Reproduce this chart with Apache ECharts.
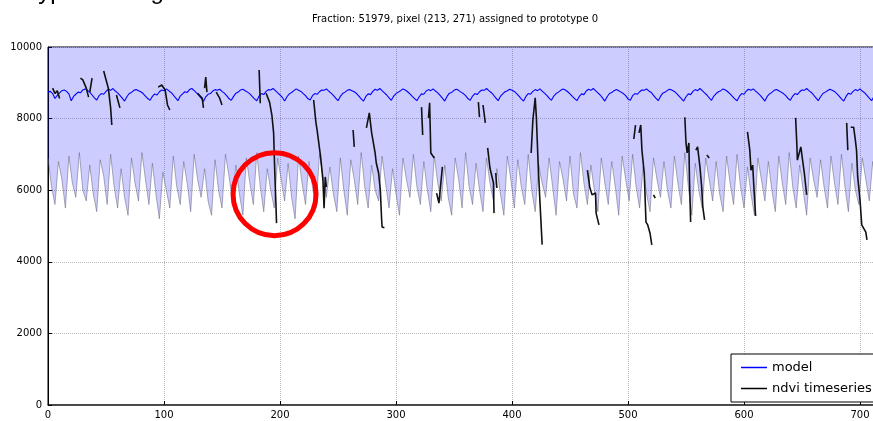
<!DOCTYPE html>
<html>
<head>
<meta charset="utf-8">
<script src="https://cdn.jsdelivr.net/npm/echarts@6/dist/echarts.min.js"></script>
</head>
<body style="margin:0;background:#fff;overflow:hidden">
<div id="main" style="width:900px;height:421px"></div>
<script>
// model curve, one value every 2 time steps
var modelStep = 2;
var modelValues = [
  8740, 8760, 8700, 8560, 8650, 8720, 8780, 8800, 8760, 8690,
  8500, 8620, 8680, 8740, 8720, 8800, 8830, 8790, 8740, 8660, 8580,
  8520, 8640, 8700, 8680, 8760, 8820, 8790, 8840, 8770, 8720, 8650, 8570,
  8490, 8610, 8700, 8730, 8790, 8810, 8780, 8750, 8700, 8630, 8560,
  8510, 8620, 8690, 8660, 8750, 8800, 8780, 8830, 8780, 8730, 8660, 8580,
  8500, 8630, 8690, 8750, 8730, 8810, 8840, 8780, 8720, 8650, 8570,
  8480, 8610, 8680, 8700, 8770, 8810, 8790, 8820, 8760, 8710, 8640, 8560,
  8510, 8620, 8710, 8740, 8800, 8820, 8780, 8740, 8690, 8620, 8550,
  8500, 8630, 8700, 8670, 8760, 8810, 8800, 8840, 8780, 8720, 8660, 8590,
  8490, 8610, 8690, 8730, 8780, 8830, 8790, 8760, 8700, 8640, 8560,
  8520, 8640, 8700, 8680, 8750, 8800, 8790, 8830, 8770, 8710, 8650, 8570,
  8500, 8620, 8700, 8740, 8790, 8810, 8780, 8750, 8700, 8630, 8550,
  8490, 8620, 8690, 8670, 8760, 8820, 8790, 8840, 8780, 8720, 8660, 8580,
  8510, 8630, 8700, 8740, 8780, 8830, 8800, 8750, 8690, 8620, 8560,
  8500, 8610, 8690, 8680, 8770, 8810, 8780, 8830, 8770, 8720, 8650, 8570,
  8490, 8620, 8710, 8730, 8790, 8820, 8790, 8740, 8700, 8640, 8560,
  8510, 8630, 8700, 8670, 8750, 8800, 8790, 8840, 8780, 8730, 8660, 8580,
  8500, 8620, 8690, 8750, 8780, 8820, 8790, 8760, 8700, 8630, 8550,
  8490, 8620, 8700, 8680, 8760, 8810, 8780, 8830, 8770, 8710, 8650, 8570,
  8510, 8630, 8700, 8740, 8790, 8830, 8800, 8750, 8690, 8620, 8560,
  8500, 8620, 8690, 8670, 8770, 8820, 8790, 8840, 8780, 8720, 8660, 8580,
  8490, 8610, 8700, 8730, 8780, 8810, 8780, 8740, 8700, 8640, 8550,
  8510, 8640, 8700, 8680, 8750, 8800, 8790, 8830, 8770, 8730, 8650, 8570,
  8500, 8620, 8710, 8740, 8790, 8820, 8790, 8760, 8700, 8630, 8560,
  8490, 8610, 8690, 8670, 8760, 8810, 8780, 8840, 8780, 8720, 8660, 8580,
  8510, 8630, 8700, 8750, 8780, 8830, 8800, 8750, 8690, 8620, 8550,
  8500, 8620, 8700, 8680, 8770, 8820, 8790, 8830, 8770, 8710, 8650, 8570,
  8490, 8620, 8690, 8730, 8790, 8810, 8780, 8740, 8700, 8640, 8560,
  8510, 8630, 8700, 8670, 8750, 8800, 8790, 8840, 8780, 8730, 8660, 8580,
  8500, 8610, 8700, 8740, 8780, 8820, 8790, 8760, 8700, 8630, 8550,
  8490, 8620, 8710, 8680, 8760, 8810, 8780, 8830, 8770, 8720, 8650, 8570,
  8500, 8620, 8700, 8740, 8790
];

// lower edge of the shaded band, one value every 3 time steps
var bandStep = 3;
var bandLower = [
  6900, 6100, 5600, 6800, 6300, 5500, 6950, 6200, 5800, 7050, 6000, 5700,
  6700, 5900, 5400, 6850, 6400, 5600, 7000, 6100, 5500, 6600, 5800, 5300,
  6900, 6200, 5700, 7050, 6300, 5600, 6750, 5900, 5200, 6500, 6000, 5500,
  6950, 6100, 5600, 6800, 6200, 5400, 7000, 6300, 5800, 6600, 5700, 5300,
  6850, 6000, 5500, 7000, 6400, 5700, 6700, 5900, 5300, 6900, 6200, 5600,
  7050, 6100, 5400, 6600, 6000, 5500, 6900, 6300, 5700, 6750, 5800, 5200,
  6950, 6200, 5600, 6800, 6100, 5500, 7000, 6400, 5800, 6650, 5900, 5400,
  6900, 6000, 5300, 6850, 6300, 5600, 7050, 6100, 5500, 6700, 6000, 5700,
  6950, 6200, 5500, 6600, 5900, 5300, 6900, 6300, 5800, 7000, 6100, 5600,
  6800, 6000, 5400, 6950, 6200, 5700, 6700, 5800, 5300, 6900, 6300, 5500,
  7050, 6100, 5600, 6750, 6000, 5400, 6900, 6200, 5700, 6600, 5900, 5300,
  6950, 6300, 5500, 6850, 6100, 5600, 7000, 6000, 5400, 6700, 6200, 5800,
  6900, 6100, 5300, 6800, 6300, 5700, 6950, 5900, 5500, 7050, 6200, 5600,
  6700, 6000, 5400, 6900, 6200, 5600, 6800, 6100, 5300, 6950, 6300, 5700,
  7000, 6100, 5500, 6650, 5900, 5400, 6900, 6300, 5800, 6800, 6000, 5500,
  6950, 6200, 5600, 7050, 6100, 5300, 6750, 6000, 5500, 6900, 6300, 5700,
  6800, 5900, 5400, 6950, 6200, 5600, 7000, 6100, 5500, 6650, 5900, 5300,
  6900, 6300, 5700, 6800, 6000, 5400, 6950, 6200, 5600, 7050, 6100, 5500,
  6700, 6000, 5300, 6900, 6300, 5800, 6850, 6100, 5500, 6950, 6200, 5600,
  7000, 6100, 5400, 6750, 6000, 5600, 6900, 6300, 5700, 6800, 6100, 5500,
  6900, 6000
];

// ndvi observations, broken into the runs that were observed
var ndviSegments = [
  [[4, 8850], [6, 8700], [8, 8780], [10, 8560]],
  [[28, 9130], [30, 9080], [33, 8850], [35, 8600]],
  [[36, 8740], [38, 9130]],
  [[48, 9330], [52, 8850], [54, 8300], [55, 7820]],
  [[59, 8660], [62, 8300]],
  [[95, 8880], [98, 8940], [101, 8800], [103, 8380], [105, 8240]],
  [[129, 8710], [133, 8570], [134, 8300]],
  [[135, 8850], [136, 9160], [137, 8740]],
  [[145, 8740], [148, 8570], [150, 8380]],
  [[182, 9360], [183, 8430]],
  [[188, 8710], [191, 8460], [193, 8100], [194.5, 7600], [195.5, 6500], [196.5, 5600], [197, 5080]],
  [[229, 8520], [231, 7880], [232, 7680], [235, 6930], [237, 6280], [238, 5500], [239, 6370], [240, 6090]],
  [[263, 7680], [264, 7210]],
  [[274.5, 7740], [277, 8160], [279, 7600], [282, 7040], [283, 6760], [285, 6480], [286.5, 6000], [287.5, 5250], [288, 4970], [290, 4950]],
  [[322, 8320], [323, 7540]],
  [[328, 8020], [329, 8440], [330, 7040], [333, 6900]],
  [[335, 5920], [337, 5640], [340, 6650]],
  [[371, 8460], [372, 8040]],
  [[375, 8380], [377, 7880]],
  [[379, 7180], [381, 6620], [384, 6200], [384.5, 5360]],
  [[386, 6480], [387, 6060]],
  [[416.5, 7040], [418, 7960], [420, 8580], [421, 8040], [422.5, 6760], [424, 5730], [426, 4480]],
  [[465, 6560], [467, 6090], [469, 5870], [472, 5920], [472.5, 5360], [474, 5310], [475, 5030]],
  [[505, 7430], [506.5, 7820]],
  [[509.5, 7600], [511, 7820], [512, 7120], [514, 6480], [515.5, 5110], [517, 5030], [519, 4800], [520.5, 4470]],
  [[522, 5870], [523.5, 5780]],
  [[549, 8040], [550, 7320], [551, 7040], [552.5, 7320], [553, 6280], [554, 5110]],
  [[558.5, 7120], [560, 7210], [562, 6650], [563.5, 6090], [564.5, 5530], [566, 5170]],
  [[568, 6980], [570, 6900]],
  [[603, 7630], [605, 7120], [606, 6560], [607.5, 6700], [608.5, 6090], [610, 5280]],
  [[644.5, 8020], [645.5, 7320], [646, 6840], [649, 7210], [650.5, 6840], [652, 6480], [654, 5870]],
  [[688.5, 7880], [689.5, 7120]],
  [[692, 7760], [694.5, 7760], [696, 7400], [697, 7120], [698, 6370], [700, 5730], [701.5, 5030], [705, 4830], [706, 4610]]
];

// the highlighted observation (centre of the red ring)
var ringCenter = [195.3, 5890];

var chartTitle = 'Fraction: 51979, pixel (213, 271) assigned to prototype 0';
var slideHeading = 'Typical fitting';

var modelData = modelValues.map(function (v, i) { return [i * modelStep, v]; });
var bandData = bandLower.map(function (v, i) { return [i * bandStep, v]; });
var ndviData = [];
ndviSegments.forEach(function (seg, k) {
  if (k > 0) ndviData.push([seg[0][0] - 0.5, null]);
  seg.forEach(function (p) { ndviData.push(p); });
});

var font = 'DejaVu Sans';
var myChart = echarts.init(document.getElementById('main'));

var option = {
  animation: false,
  backgroundColor: '#fff',
  title: {
    text: chartTitle,
    left: 450,
    top: 9,
    textAlign: 'center',
    textStyle: { fontFamily: font, fontSize: 10, fontWeight: 'normal', color: '#000' }
  },
  legend: {
    orient: 'vertical',
    left: 731,
    top: 354,
    padding: [7, 14, 7, 10],
    itemGap: 8,
    itemWidth: 26,
    itemHeight: 1.5,
    selectedMode: false,
    backgroundColor: '#fff',
    borderColor: '#000',
    borderWidth: 1,
    borderRadius: 0,
    textStyle: { fontFamily: font, fontSize: 13, color: '#000' },
    data: [
      { name: 'model', icon: 'rect' },
      { name: 'ndvi timeseries', icon: 'rect' }
    ]
  },
  grid: {
    left: 48,
    top: 47,
    width: 835.2,
    height: 358,
    show: true,
    borderColor: '#000',
    borderWidth: 1,
    backgroundColor: 'transparent'
  },
  xAxis: {
    type: 'value',
    min: 0,
    max: 720,
    interval: 100,
    axisLine: { lineStyle: { color: '#333', width: 1.5 } },
    axisTick: { inside: true, length: 4, lineStyle: { color: '#000' } },
    axisLabel: { fontFamily: font, fontSize: 10, color: '#000', margin: 5,
      formatter: function (v) { return v > 700 ? '' : String(v); } },
    splitLine: { show: true, lineStyle: { type: 'dotted', color: '#bbb', width: 1 } }
  },
  yAxis: {
    type: 'value',
    min: 0,
    max: 10000,
    interval: 2000,
    axisLine: { show: true, lineStyle: { color: '#000', width: 1 } },
    axisTick: { show: true, inside: true, length: 4, lineStyle: { color: '#000' } },
    axisLabel: { fontFamily: font, fontSize: 10, color: '#000', margin: 6,
      formatter: function (v) { return String(v); } },
    splitLine: { show: true, lineStyle: { type: 'dotted', color: '#bbb', width: 1 } }
  },
  series: [
    {
      name: 'band',
      type: 'line',
      data: bandData,
      showSymbol: false,
      symbol: 'none',
      lineStyle: { color: 'rgba(90,90,115,0.55)', width: 0.9 },
      areaStyle: { origin: 'end', color: 'rgba(0,0,255,0.2)', opacity: 1 },
      z: 1
    },
    {
      name: 'model',
      type: 'line',
      data: modelData,
      showSymbol: false,
      symbol: 'none',
      color: '#0000ff',
      lineStyle: { color: '#0000ff', width: 1.1 },
      z: 2
    },
    {
      name: 'ndvi timeseries',
      type: 'line',
      data: ndviData,
      showSymbol: false,
      symbol: 'none',
      connectNulls: false,
      color: '#000',
      lineStyle: { color: '#111', width: 1.6 },
      z: 3
    }
  ]
};
myChart.setOption(option);

var c = myChart.convertToPixel({ gridIndex: 0 }, ringCenter);
myChart.setOption({
  graphic: [
    {
      type: 'text',
      left: 25,
      top: -20,
      style: { text: slideHeading, font: '24px "Liberation Sans"', fill: '#000' },
      z: 50
    },
    {
      type: 'circle',
      shape: { cx: c[0], cy: c[1], r: 41.5 },
      style: { fill: 'none', stroke: '#ff0000', lineWidth: 5 },
      z: 100
    }
  ]
});
</script>
</body>
</html>
